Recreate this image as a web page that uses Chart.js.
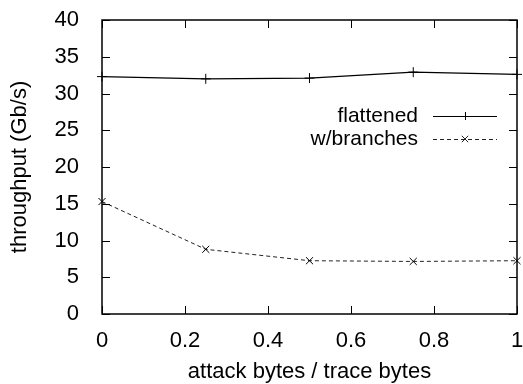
<!DOCTYPE html>
<html>
<head>
<meta charset="utf-8">
<script src="https://cdn.jsdelivr.net/npm/chart.js@4"></script>
<style>
  html, body { margin: 0; padding: 0; background: #fff; }
  #wrap { width: 523px; height: 384px; }
</style>
</head>
<body>
<div id="wrap"><canvas id="grafico"></canvas></div>
<script>
// dados
var ratio = [0, 0.25, 0.5, 0.75, 1];
var flattened = [32.3, 32.0, 32.1, 32.9, 32.6];
var branches = [15.3, 8.8, 7.25, 7.15, 7.25];
var y_ticks = [0, 5, 10, 15, 20, 25, 30, 35, 40];
var x_ticks = [0, 0.2, 0.4, 0.6, 0.8, 1];

var fonte = "'Liberation Sans', Arial, sans-serif";
var tam = 22;

function pontos(ys) {
	return ratio.map(function (x, i) {
		return { x: x, y: ys[i] };
	});
}

// moldura estilo gnuplot com ticks para dentro
var moldura = {
	id: "moldura",
	afterDraw: function (chart) {
		var ctx = chart.ctx;
		var a = chart.chartArea;
		var sx = chart.scales.x;
		var sy = chart.scales.y;
		var t = 8;
		ctx.save();
		ctx.strokeStyle = "#000";
		ctx.lineWidth = 1.5;
		ctx.strokeRect(a.left, a.top, a.right - a.left, a.bottom - a.top);
		ctx.lineWidth = 1;
		ctx.beginPath();
		x_ticks.forEach(function (v) {
			var px = Math.round(sx.getPixelForValue(v)) + 0.5;
			ctx.moveTo(px, a.bottom);
			ctx.lineTo(px, a.bottom - t);
			ctx.moveTo(px, a.top);
			ctx.lineTo(px, a.top + t);
		});
		y_ticks.forEach(function (v) {
			var py = Math.round(sy.getPixelForValue(v)) + 0.5;
			ctx.moveTo(a.left, py);
			ctx.lineTo(a.left + t, py);
			ctx.moveTo(a.right, py);
			ctx.lineTo(a.right - t, py);
		});
		ctx.stroke();

		// legenda
		var linhas = chart.data.datasets;
		ctx.font = "21px " + fonte;
		ctx.textAlign = "right";
		ctx.textBaseline = "middle";
		linhas.forEach(function (ds, i) {
			var y = 116 + i * 23;
			ctx.fillStyle = "#000";
			ctx.fillText(ds.label, 418, y);
			ctx.strokeStyle = ds.borderColor;
			ctx.lineWidth = 1;
			ctx.setLineDash(ds.borderDash || []);
			ctx.beginPath();
			ctx.moveTo(433, y + 0.5);
			ctx.lineTo(497, y + 0.5);
			ctx.stroke();
			ctx.setLineDash([]);
			ctx.beginPath();
			var r = 4;
			if (ds.pointStyle == "cross") {
				ctx.moveTo(465 - r, y + 0.5);
				ctx.lineTo(465 + r, y + 0.5);
				ctx.moveTo(465.5, y - r);
				ctx.lineTo(465.5, y + r);
			} else {
				ctx.moveTo(465 - r * 0.8, y - r * 0.8);
				ctx.lineTo(465 + r * 0.8, y + r * 0.8);
				ctx.moveTo(465 - r * 0.8, y + r * 0.8);
				ctx.lineTo(465 + r * 0.8, y - r * 0.8);
			}
			ctx.stroke();
		});
		ctx.restore();
	},
};

new Chart(document.getElementById("grafico"), {
	type: "line",
	data: {
		datasets: [
			{
				label: "flattened",
				data: pontos(flattened),
				borderColor: "#000",
				backgroundColor: "#000",
				borderWidth: 1.2,
				pointStyle: "cross",
				pointRadius: 5,
				pointBorderWidth: 1,
				pointBorderColor: "#000",
				fill: false,
				tension: 0,
				clip: false,
			},
			{
				label: "w/branches",
				data: pontos(branches),
				borderColor: "#222",
				backgroundColor: "#000",
				borderWidth: 1,
				borderDash: [4, 3],
				pointStyle: "crossRot",
				pointRadius: 5,
				pointBorderWidth: 1,
				pointBorderColor: "#000",
				fill: false,
				tension: 0,
				clip: false,
			},
		],
	},
	options: {
		responsive: true,
		maintainAspectRatio: false,
		animation: false,
		layout: { padding: { top: 20, right: 6, left: 0, bottom: 0 } },
		plugins: {
			legend: { display: false },
			tooltip: { enabled: false },
		},
		scales: {
			x: {
				type: "linear",
				min: 0,
				max: 1,
				afterBuildTicks: function (s) {
					s.ticks = x_ticks.map(function (v) { return { value: v }; });
				},
				afterFit: function (s) {
					s.height = 70;
					s.paddingLeft = 0;
					s.paddingRight = 0;
				},
				grid: { display: false },
				border: { display: false },
				ticks: {
					color: "#000",
					font: { family: fonte, size: tam },
					padding: 6,
					maxRotation: 0,
					callback: function (v) { return String(v); },
				},
				title: {
					display: true,
					text: "attack bytes / trace bytes",
					color: "#000",
					font: { family: fonte, size: tam, lineHeight: 0.85 },
					padding: { top: 0, bottom: 3 },
				},
			},
			y: {
				type: "linear",
				min: 0,
				max: 40,
				afterBuildTicks: function (s) {
					s.ticks = y_ticks.map(function (v) { return { value: v }; });
				},
				afterFit: function (s) {
					s.width = 102;
					s.paddingTop = 0;
					s.paddingBottom = 0;
				},
				grid: { display: false },
				border: { display: false },
				ticks: {
					color: "#000",
					font: { family: fonte, size: tam },
					padding: 15,
				},
				title: {
					display: true,
					text: "throughput (Gb/s)",
					color: "#000",
					font: { family: fonte, size: tam },
					padding: { top: 7, bottom: 0 },
				},
			},
		},
	},
	plugins: [moldura],
});
</script>
</body>
</html>
